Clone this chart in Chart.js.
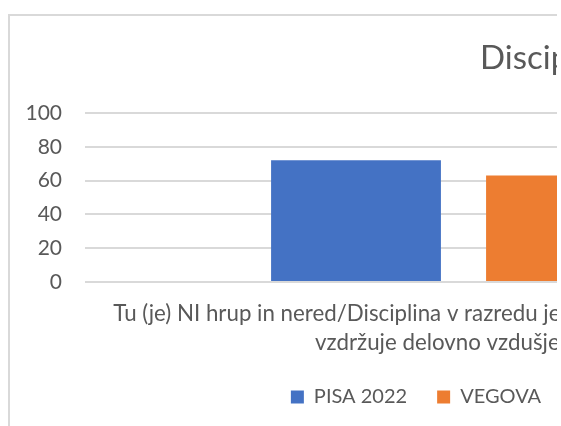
<!DOCTYPE html>
<html>
<head>
<meta charset="utf-8">
<script src="https://cdn.jsdelivr.net/npm/chart.js@4.4.1/dist/chart.umd.min.js"></script>
<style>
    html, body { margin: 0; padding: 0; background: #fff; }
    #view { position: absolute; left: 0; top: 0; width: 557px; height: 426px; overflow: hidden; }
    #frame { position: absolute; left: 8px; top: 14px; border-left: 2px solid #d9d9d9; border-top: 2px solid #d9d9d9; }
    canvas { display: block; }
</style>
</head>
<body>
<div id="view">
    <div id="frame">
        <canvas id="chart" width="832" height="424"></canvas>
    </div>
</div>
<script>
// Chart data
const chartTitle = "Disciplina";
const categories = [[
    "Tu (je) NI hrup in nered/Disciplina v razredu je dobra, učitelj oz. profesor",
    "vzdržuje delovno vzdušje (v %)"
]];
const pisaValues = [72];
const vegovaValues = [63];
const yTicks = [0, 20, 40, 60, 80, 100];

const textColor = "#595959";
const fontFamily = "Lato, 'Open Sans', sans-serif";

// Title sits right of centre; legend nudged a little to the left
const framePlugin = {
    id: "frameLayout",
    afterLayout(chart) {
        chart.legend.left -= 10;
        chart.legend.right -= 10;
    },
    afterDraw(chart) {
        const ctx = chart.ctx;
        ctx.save();
        ctx.font = "33px " + fontFamily;
        ctx.fillStyle = textColor;
        ctx.textBaseline = "middle";
        ctx.textAlign = "left";
        ctx.fillText(chartTitle, 470, 42);
        ctx.restore();
    }
};

const ctx = document.getElementById("chart").getContext("2d");
new Chart(ctx, {
    type: "bar",
    data: {
        labels: categories,
        datasets: [
            {
                label: "PISA 2022",
                data: pisaValues,
                backgroundColor: "#4472C4",
                barPercentage: 0.79,
                categoryPercentage: 0.568,
            },
            {
                label: "VEGOVA",
                data: vegovaValues,
                backgroundColor: "#ED7D31",
                barPercentage: 0.79,
                categoryPercentage: 0.568,
            },
        ],
    },
    options: {
        responsive: false,
        animation: false,
        layout: {
            padding: { top: 97, left: 0, right: 0, bottom: 23 },
        },
        plugins: {
            title: { display: false },
            tooltip: { enabled: false },
            legend: {
                position: "bottom",
                labels: {
                    boxWidth: 13,
                    boxHeight: 13,
                    padding: 30,
                    color: textColor,
                    font: { size: 20, family: fontFamily },
                },
            },
        },
        scales: {
            x: {
                grid: { display: false, tickLength: 17 },
                border: { display: false },
                ticks: {
                    color: textColor,
                    padding: 0,
                    maxRotation: 0,
                    autoSkip: false,
                    font: { size: 22.3, family: fontFamily, lineHeight: "29px" },
                },
            },
            y: {
                min: 0,
                max: 100,
                afterFit: (axis) => { axis.width = 75; },
                afterBuildTicks: (axis) => { axis.ticks = yTicks.map((v) => ({ value: v })); },
                grid: { color: "#d9d9d9", lineWidth: 2, drawTicks: false },
                border: { display: false },
                ticks: {
                    color: textColor,
                    padding: 23,
                    font: { size: 21, family: fontFamily },
                },
            },
        },
    },
    plugins: [framePlugin],
});
</script>
</body>
</html>
